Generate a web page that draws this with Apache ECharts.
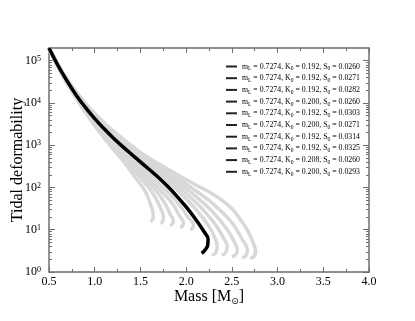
<!DOCTYPE html>
<html>
<head>
<meta charset="utf-8">
<script src="https://cdn.jsdelivr.net/npm/echarts@6/dist/echarts.min.js"></script>
<style>
html,body{margin:0;padding:0;background:#fff;}
#chart{width:415px;height:321px;}
</style>
</head>
<body>
<div id="chart"></div>
<script>
// legend parameters
var mL = '0.7274';
var k0Values = ['0.192', '0.192', '0.192', '0.200', '0.192', '0.200', '0.192', '0.192', '0.208', '0.200'];
var s0Values = ['0.0260', '0.0271', '0.0282', '0.0260', '0.0303', '0.0271', '0.0314', '0.0325', '0.0260', '0.0293'];

var yMajorTicks = [1, 10, 100, 1000, 10000, 100000];

// grey family of curves [mass, tidal deformability]
var curveA = [[0.5,186000],[0.7,28200],[0.9,5900],[1.1,1500],[1.3,447],[1.45,166],[1.55,83],[1.61,40],[1.64,22.4],[1.635,17.8],[1.61,15.8]];
var curveB = [[0.5,190000],[0.7,28800],[0.9,6170],[1.1,1640],[1.3,525],[1.5,168],[1.62,83],[1.70,40],[1.75,20],[1.745,15.8],[1.72,14.1]];
var curveC = [[0.5,195000],[0.7,29500],[0.9,6460],[1.1,1800],[1.3,603],[1.5,211],[1.65,95],[1.76,45],[1.83,22.4],[1.86,16.6],[1.85,13.8],[1.825,12.6]];
var curveD = [[0.5,200000],[0.7,30200],[0.9,6760],[1.1,1970],[1.3,692],[1.5,254],[1.7,95],[1.85,41.7],[1.93,20.9],[1.97,14.8],[1.96,12.3],[1.935,11.2]];
var curveE = [[0.5,200000],[0.7,30900],[0.9,7080],[1.1,2160],[1.3,794],[1.5,320],[1.7,126],[1.9,45.7],[2.02,20],[2.08,13.2],[2.07,11],[2.045,10]];
var curveF = [[0.5,200000],[0.7,33100],[0.9,8320],[1.1,2790],[1.3,1120],[1.5,495],[1.7,219],[1.9,89],[2.1,31.6],[2.25,12],[2.32,6.0],[2.34,4.0],[2.32,2.8],[2.28,2.5]];
var curveG = [[0.5,200000],[0.7,33900],[0.9,8710],[1.1,2990],[1.3,1230],[1.5,543],[1.7,251],[1.9,112],[2.1,45.7],[2.3,15.1],[2.41,6.3],[2.45,4.0],[2.43,2.8],[2.39,2.5]];
var curveH = [[0.5,200000],[0.7,34700],[0.9,9120],[1.1,3130],[1.3,1320],[1.5,582],[1.7,282],[1.9,138],[2.1,63],[2.3,25.1],[2.45,10],[2.53,5.0],[2.56,3.3],[2.54,2.5],[2.50,2.3]];
var curveI = [[0.5,200000],[0.7,35500],[0.9,9330],[1.1,3270],[1.3,1380],[1.5,617],[1.7,316],[1.9,166],[2.1,85],[2.3,40],[2.5,14.8],[2.62,5.6],[2.67,3.3],[2.65,2.4],[2.61,2.2]];
var curveJ = [[0.5,200000],[0.7,36300],[0.9,9770],[1.1,3470],[1.3,1480],[1.5,676],[1.7,363],[1.9,204],[2.1,117],[2.3,68],[2.5,31.6],[2.6,16.6],[2.68,8.9],[2.74,4.5],[2.76,3.0],[2.74,2.3],[2.70,2.1]];

// black curve
var mainCurve = [[0.5,200000],[0.6,75900],[0.7,32400],[0.8,15100],[0.9,7760],[1.0,4270],[1.1,2480],[1.2,1510],[1.3,955],[1.4,617],[1.5,403],[1.6,263],[1.7,170],[1.8,105],[1.9,61.7],[2.0,34.7],[2.1,18.2],[2.2,8.7],[2.24,6.0],[2.235,4.2],[2.2,3.2],[2.17,2.75]];

var greyCurves = [curveA, curveB, curveC, curveD, curveE, curveF, curveG, curveH, curveI, curveJ];

var names = [];
for (var i = 0; i < k0Values.length; i++) {
	names.push('m_L = ' + mL + ', K_0 = ' + k0Values[i] + ', S_0 = ' + s0Values[i]);
}

var yMinorTicks = [];
yMajorTicks.forEach(function (d) {
	for (var m = 2; m <= 9; m++) {
		if (d * m < 200000) yMinorTicks.push(d * m);
	}
});

var serif = 'Liberation Serif';
var axisColor = '#6e6e6e';

var chart = echarts.init(document.getElementById('chart'));

var series = [];
greyCurves.forEach(function (c, i) {
	series.push({
		name: names[i],
		type: 'line',
		data: c,
		smooth: 0.4,
		symbol: 'none',
		lineStyle: {color: '#d8d8d8', width: 3.5},
		itemStyle: {color: '#d8d8d8'},
		z: 2
	});
});
series.push({
	name: 'main',
	type: 'line',
	data: mainCurve,
	smooth: 0.4,
	symbol: 'none',
	lineStyle: {color: '#000', width: 3.5},
	z: 3
});

function yAxisDef(pos, ticks, len, showLabel, showLine) {
	return {
		type: 'log',
		logBase: 10,
		min: 1,
		max: 200000,
		position: pos,
		splitLine: {show: false},
		axisLine: {show: showLine, lineStyle: {color: axisColor, width: 1.5}},
		axisTick: {show: true, inside: true, length: len, customValues: ticks, lineStyle: {color: axisColor, width: 1}},
		axisLabel: {
			show: showLabel,
			customValues: yMajorTicks,
			margin: 8,
			fontFamily: serif,
			fontSize: 12,
			color: '#000',
			formatter: function (v) {
				return '10{sup|' + Math.round(Math.log10(v)) + '}';
			},
			rich: {sup: {fontSize: 8, fontFamily: serif, color: '#000', verticalAlign: 'top', lineHeight: 8}}
		}
	};
}

function xAxisDef(pos, showLabel) {
	return {
		type: 'value',
		min: 0.5,
		max: 4.0,
		interval: 0.5,
		position: pos,
		splitLine: {show: false},
		axisLine: {show: true, lineStyle: {color: axisColor, width: 1.5}},
		axisTick: {show: true, inside: true, length: 5, lineStyle: {color: axisColor, width: 1}},
		minorTick: {show: true, splitNumber: 2, length: 3, lineStyle: {color: axisColor, width: 1}},
		axisLabel: {
			show: showLabel,
			margin: 4,
			fontFamily: serif,
			fontSize: 12,
			color: '#000',
			formatter: function (v) { return v.toFixed(1); }
		}
	};
}

var xBottom = xAxisDef('bottom', true);
xBottom.name = 'Mass [M{sub|⊙}]';
xBottom.nameLocation = 'middle';
xBottom.nameGap = 16;
xBottom.nameMoveOverlap = false;
xBottom.nameTextStyle = {
	fontFamily: serif, fontSize: 16, color: '#000', lineHeight: 18, verticalAlign: 'top',
	rich: {sub: {fontFamily: 'DejaVu Sans', fontSize: 9, color: '#000', verticalAlign: 'bottom', lineHeight: 9}}
};

var yLeft = yAxisDef('left', yMajorTicks, 6, true, true);
yLeft.name = 'Tidal deformability';
yLeft.nameLocation = 'middle';
yLeft.nameGap = 23;
yLeft.nameMoveOverlap = false;
yLeft.nameTextStyle = {fontFamily: serif, fontSize: 16, color: '#000'};

var option = {
	backgroundColor: '#fff',
	animation: false,
	grid: {left: 49, right: 46, top: 48, bottom: 49, outerBoundsMode: 'none', containLabel: false},
	legend: {
		data: names,
		orient: 'vertical',
		left: 226,
		top: 61,
		padding: 0,
		icon: 'rect',
		itemWidth: 11,
		itemHeight: 2,
		itemGap: 0.7,
		itemStyle: {color: '#222'},
		textStyle: {
			fontFamily: serif, fontSize: 7.8, color: '#000', lineHeight: 11,
			rich: {sub: {fontFamily: serif, fontSize: 5.5, color: '#000', lineHeight: 6, verticalAlign: 'bottom'}}
		},
		formatter: function (name) {
			return name.replace(/_(\w)/g, '{sub|$1}');
		}
	},
	xAxis: [xBottom, xAxisDef('top', false)],
	yAxis: [
		yLeft,
		yAxisDef('left', yMinorTicks, 3, false, false),
		yAxisDef('right', yMajorTicks, 6, false, true),
		yAxisDef('right', yMinorTicks, 3, false, false)
	],
	series: series
};

chart.setOption(option);
</script>
</body>
</html>
